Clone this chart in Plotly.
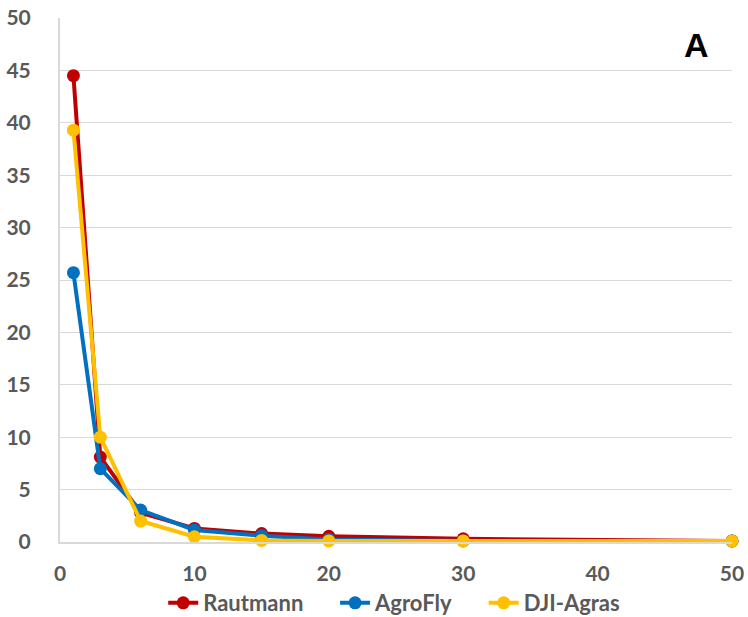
import plotly.graph_objects as go

# Distance (x) and measured values for each sprayer
distance = [1, 3, 6, 10, 15, 20, 30, 50]
rautmann = [44.5, 8.1, 2.8, 1.3, 0.8, 0.55, 0.3, 0.1]
agrofly = [25.7, 7.0, 3.05, 1.15, 0.6, 0.25, 0.1, 0.1]
dji_agras = [39.3, 10.0, 2.0, 0.5, 0.15, 0.1, 0.1, 0.1]

series = [
    ("Rautmann", rautmann, "#C00000"),
    ("AgroFly", agrofly, "#0070C0"),
    ("DJI-Agras", dji_agras, "#FFC000"),
]

# extra spacing after each legend entry except the last
pad = "\u00a0" * 5

fig = go.Figure()
for i, (name, values, color) in enumerate(series):
    fig.add_trace(go.Scatter(
        x=distance, y=values,
        name=name + (pad if i < len(series) - 1 else ""),
        mode="lines+markers",
        line=dict(color=color, width=4),
        marker=dict(color=color, size=13),
        cliponaxis=False,
    ))

font_family = "Lato, 'Open Sans', sans-serif"
tick_font = dict(family=font_family, size=21, color="#595959", weight="bold")

plot_left, plot_right, plot_top, plot_bottom = 60, 732, 18, 542
W, H = 748, 617

fig.update_layout(
    width=W, height=H,
    margin=dict(l=plot_left, r=W - plot_right, t=plot_top, b=H - plot_bottom,
                autoexpand=False),
    plot_bgcolor="white", paper_bgcolor="white",
    showlegend=True,
    legend=dict(
        orientation="h", x=372 / W, xanchor="center",
        yref="container", y=(H - 603) / H, yanchor="middle",
        font=dict(family=font_family, size=22, color="#595959", weight="bold"),
        itemwidth=30, tracegroupgap=0,
    ),
    xaxis=dict(
        range=[0, 50], tick0=0, dtick=10, showgrid=False, automargin=False,
        showline=True, linecolor="#D9D9D9", linewidth=2,
        zeroline=False, ticks="", tickfont=tick_font, ticklabelstandoff=12,
    ),
    yaxis=dict(
        range=[0, 50], tick0=0, dtick=5, showgrid=True, gridcolor="#D9D9D9",
        gridwidth=1, showline=True, linecolor="#D9D9D9", linewidth=2,
        automargin=False,
        zeroline=False, ticks="", tickfont=tick_font, ticklabelstandoff=23,
    ),
    annotations=[dict(
        text="<b>A</b>",
        x=(696 - plot_left) / (plot_right - plot_left),
        y=1 - (45 - plot_top) / (plot_bottom - plot_top),
        xref="paper", yref="paper", xanchor="center", yanchor="middle",
        showarrow=False,
        font=dict(family="Liberation Sans, Arial", size=34, color="black"),
    )],
)

fig.write_html("out.html")
